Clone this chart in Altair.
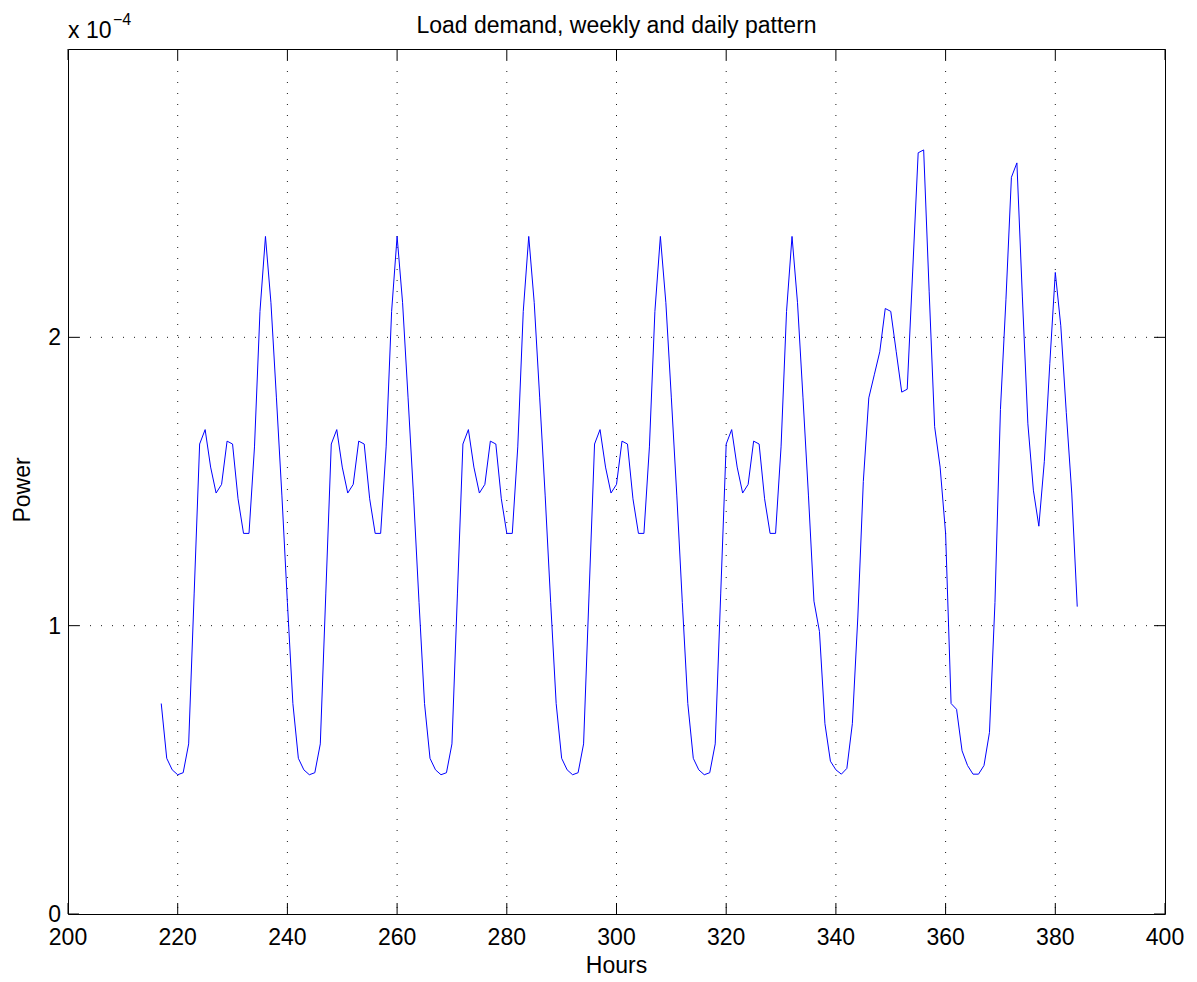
import altair as alt
import pandas as pd

# ---- data (power in units of 1e-4) ----
start_hour = 217
day_1 = [0.73, 0.54, 0.50, 0.483, 0.49, 0.59, 1.11, 1.63, 1.68, 1.55, 1.46, 1.49,
         1.64, 1.63, 1.44, 1.32, 1.32, 1.62, 2.09, 2.35, 2.12, 1.79, 1.45, 1.08]
day_2 = [0.73, 0.54, 0.50, 0.483, 0.49, 0.59, 1.11, 1.63, 1.68, 1.55, 1.46, 1.49,
         1.64, 1.63, 1.44, 1.32, 1.32, 1.62, 2.09, 2.35, 2.12, 1.79, 1.45, 1.08]
day_3 = [0.73, 0.54, 0.50, 0.483, 0.49, 0.59, 1.11, 1.63, 1.68, 1.55, 1.46, 1.49,
         1.64, 1.63, 1.44, 1.32, 1.32, 1.62, 2.09, 2.35, 2.12, 1.79, 1.45, 1.08]
day_4 = [0.73, 0.54, 0.50, 0.483, 0.49, 0.59, 1.11, 1.63, 1.68, 1.55, 1.46, 1.49,
         1.64, 1.63, 1.44, 1.32, 1.32, 1.62, 2.09, 2.35, 2.12, 1.79, 1.45, 1.08]
day_5 = [0.73, 0.54, 0.50, 0.483, 0.49, 0.59, 1.11, 1.63, 1.68, 1.55, 1.46, 1.49,
         1.64, 1.63, 1.44, 1.32, 1.32, 1.62, 2.09, 2.35, 2.12, 1.79, 1.45, 1.085]
day_6 = [0.98, 0.66, 0.53, 0.50, 0.485, 0.505, 0.66, 1.03, 1.50, 1.79, 1.87, 1.95,
         2.10, 2.09, 1.95, 1.81, 1.82, 2.23, 2.64, 2.65, 2.16, 1.69, 1.55, 1.32]
day_7 = [0.73, 0.71, 0.566, 0.515, 0.485, 0.485, 0.515, 0.63, 1.08, 1.75, 2.13, 2.555,
         2.605, 2.14, 1.70, 1.47, 1.345, 1.57, 1.91, 2.225, 2.04, 1.74, 1.46, 1.066]

power = day_1 + day_2 + day_3 + day_4 + day_5 + day_6 + day_7
hours = list(range(start_hour, start_hour + len(power)))

x_ticks = [200, 220, 240, 260, 280, 300, 320, 340, 360, 380, 400]
y_ticks = [0, 1, 2]
x_grid = [220, 240, 260, 280, 300, 320, 340, 360, 380]
y_grid = [1, 2]

title_text = "Load demand, weekly and daily pattern"
x_title = "Hours"
y_title = "Power"

W, H = 1097, 865
FONT = "Liberation Sans"
FS = 23
TICK = 11

df = pd.DataFrame({"Hours": hours, "Power": power})
xt = pd.DataFrame({"t": x_ticks, "lab": [str(v) for v in x_ticks]})
yt = pd.DataFrame({"t": y_ticks, "lab": [str(v) for v in y_ticks]})
xg = pd.DataFrame({"t": x_grid})
yg = pd.DataFrame({"t": y_grid})

xscale = alt.Scale(domain=[200, 400], nice=False, zero=False)
yscale = alt.Scale(domain=[0, 3], nice=False, zero=False)


def X(field):
    return alt.X(field, scale=xscale, axis=None)


def Y(field):
    return alt.Y(field, scale=yscale, axis=None)


grid_x = alt.Chart(xg).mark_rule(color="black", strokeWidth=1, strokeDash=[1, 10],
                                 opacity=0.9).encode(
    x=X("t:Q"), y=alt.value(0), y2=alt.value(H))
grid_y = alt.Chart(yg).mark_rule(color="black", strokeWidth=1, strokeDash=[1, 10],
                                 opacity=0.9).encode(
    y=Y("t:Q"), x=alt.value(0), x2=alt.value(W))

line = alt.Chart(df).mark_line(color="#0000ff", strokeWidth=1).encode(
    x=X("Hours:Q"), y=Y("Power:Q"))

tick_bottom = alt.Chart(xt).mark_rule(color="black", strokeWidth=1).encode(
    x=X("t:Q"), y=alt.value(H), y2=alt.value(H - TICK))
tick_top = alt.Chart(xt).mark_rule(color="black", strokeWidth=1).encode(
    x=X("t:Q"), y=alt.value(0), y2=alt.value(TICK))
tick_left = alt.Chart(yt).mark_rule(color="black", strokeWidth=1).encode(
    y=Y("t:Q"), x=alt.value(0), x2=alt.value(TICK))
tick_right = alt.Chart(yt).mark_rule(color="black", strokeWidth=1).encode(
    y=Y("t:Q"), x=alt.value(W), x2=alt.value(W - TICK))

x_labels = alt.Chart(xt).mark_text(
    font=FONT, fontSize=FS, color="black", align="center", baseline="alphabetic"
).encode(x=X("t:Q"), y=alt.value(H + 31), text="lab:N")
y_labels = alt.Chart(yt).mark_text(
    font=FONT, fontSize=FS, color="black", align="right", baseline="alphabetic", dy=8
).encode(y=Y("t:Q"), x=alt.value(-7), text="lab:N")

x_title_mark = alt.Chart(pd.DataFrame({"s": [x_title]})).mark_text(
    font=FONT, fontSize=FS, color="black", align="center", baseline="alphabetic"
).encode(text="s:N", x=alt.value(W / 2), y=alt.value(H + 59))
y_title_mark = alt.Chart(pd.DataFrame({"s": [y_title]})).mark_text(
    font=FONT, fontSize=FS, color="black", align="center", baseline="alphabetic",
    angle=270
).encode(text="s:N", x=alt.value(-38), y=alt.value(441))

title_mark = alt.Chart(pd.DataFrame({"s": [title_text]})).mark_text(
    font=FONT, fontSize=FS, color="black", align="center", baseline="alphabetic"
).encode(text="s:N", x=alt.value(W / 2), y=alt.value(-16))
exp_base = alt.Chart(pd.DataFrame({"s": ["x 10"]})).mark_text(
    font=FONT, fontSize=FS, color="black", align="left", baseline="alphabetic"
).encode(text="s:N", x=alt.value(0), y=alt.value(-11))
exp_sup = alt.Chart(pd.DataFrame({"s": ["\u22124"]})).mark_text(
    font=FONT, fontSize=16, color="black", align="left", baseline="alphabetic"
).encode(text="s:N", x=alt.value(45), y=alt.value(-24))

chart = alt.layer(
    grid_x, grid_y, line, tick_bottom, tick_top, tick_left, tick_right,
    x_labels, y_labels, x_title_mark, y_title_mark, title_mark, exp_base, exp_sup
).properties(
    width=W, height=H,
    autosize=alt.AutoSizeParams(type="none"),
    padding={"left": 60, "top": 41, "right": 20, "bottom": 60},
).configure_view(
    stroke="black", strokeWidth=1
)

chart.save("out.html", embed_options={"renderer": "svg", "actions": False})
